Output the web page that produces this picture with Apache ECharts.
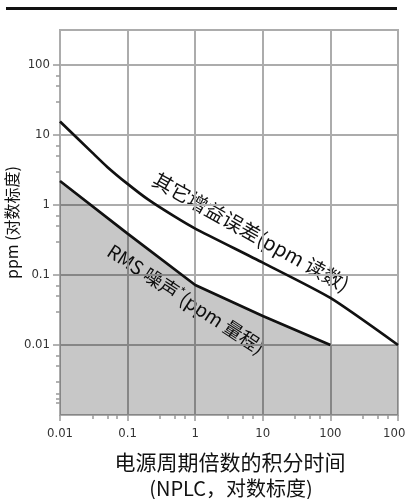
<!DOCTYPE html>
<html><head><meta charset="utf-8">
<script src="https://cdn.jsdelivr.net/npm/echarts@6/dist/echarts.min.js"></script>
<style>html,body{margin:0;padding:0;background:#fff}#c{width:406px;height:499px}</style>
</head><body><div id="c"></div>
<script>
// NPLC (x) and ppm (y) values
const gainX  = [0.01, 0.03, 0.05, 0.1, 0.2, 0.5, 1, 10, 100, 1000];
const gainY  = [15.6, 5.6, 3.5, 2.0, 1.2, 0.68, 0.46, 0.15, 0.047, 0.01];
const noiseX = [0.01, 0.1, 1, 10, 100, 1000];
const noiseY = [2.2, 0.39, 0.072, 0.026, 0.01, 0.01];
const noiseLineEnd = 100; // black line stops here; fill continues
const xLabels = [0.01, 0.1, 1, 10, 100, 1000];
const yLabels = [0.01, 0.1, 1, 10, 100];
const xTickValues = [0.03,0.05,0.07,0.3,0.5,0.7,3,5,7,30,50,70,300,500,700];
const yTickValues = [0.0015,0.0017,0.002,0.003,0.005,0.007,0.03,0.05,0.07,0.3,0.5,0.7,3,5,7,30,50,70];

const gainData = gainX.map((x, i) => [x, gainY[i]]);
const noiseArea = noiseX.map((x, i) => [x, noiseY[i]]);
const noiseLine = noiseArea.filter(d => d[0] <= noiseLineEnd);

function fmtFor(list) {
  return function (v) {
    for (const t of list) { if (Math.abs(v - t) / t < 1e-6) return String(t); }
    return '';
  };
}
const narrow = '"Liberation Sans Narrow","DejaVu Sans Condensed","Liberation Sans",sans-serif';
const cjk = '"Noto Sans CJK SC","Liberation Sans Narrow",sans-serif';
const gridColor = '#acacac';

const chart = echarts.init(document.getElementById('c'));
chart.setOption({
  animation: false,
  backgroundColor: '#fff',
  grid: { left: 60, right: 8, top: 30, bottom: 84, show: true, borderColor: gridColor, borderWidth: 2,
          backgroundColor: 'transparent', containLabel: false, outerBoundsMode: 'none' },
  xAxis: [{
    type: 'log', logBase: 10, min: 0.01, max: 1000, position: 'bottom',
    axisLine: { show: true, lineStyle: { color: gridColor, width: 2 } },
    axisTick: { show: true, inside: false, length: 6, lineStyle: { color: '#999', width: 1.5 } },
    axisLabel: { formatter: fmtFor(xLabels), color: '#333', fontSize: 13, fontFamily: narrow, margin: 12, showMaxLabel: true },
    splitLine: { show: true, lineStyle: { color: gridColor, width: 2 } }
  }, {
    type: 'log', logBase: 10, min: 0.01, max: 1000, position: 'bottom', offset: 0,
    axisLine: { show: false }, axisLabel: { show: false }, splitLine: { show: false },
    axisTick: { show: true, inside: false, length: 4, lineStyle: { color: '#999', width: 1.5 }, customValues: xTickValues }
  }],
  yAxis: [{
    type: 'log', logBase: 10, min: 0.001, max: 316.2, position: 'left',
    axisLine: { show: true, lineStyle: { color: gridColor, width: 2 } },
    axisTick: { show: true, inside: false, length: 7, lineStyle: { color: '#999', width: 1.5 },
                customValues: [0.01, 0.1, 1, 10, 100] },
    axisLabel: { formatter: fmtFor(yLabels), color: '#333', fontSize: 13, fontFamily: narrow, margin: 10 },
    splitLine: { show: true, lineStyle: { color: gridColor, width: 2 } },
    name: 'ppm (对数标度)', nameLocation: 'middle', nameGap: 40, nameRotate: 90, nameMoveOverlap: false,
    nameTextStyle: { fontSize: 16, color: '#111', fontFamily: cjk }
  }, {
    type: 'log', logBase: 10, min: 0.001, max: 316.2, position: 'left', offset: 0,
    axisLine: { show: false }, axisLabel: { show: false }, splitLine: { show: false },
    axisTick: { show: true, inside: false, length: 4, lineStyle: { color: '#999', width: 1.5 }, customValues: yTickValues }
  }],
  series: [
    { type: 'line', data: noiseArea, symbol: 'none', lineStyle: { width: 0 }, areaStyle: { color: 'rgba(0,0,0,0.22)', opacity: 1, origin: 'start' }, silent: true, z: 1 },
    { type: 'line', data: noiseLine, symbol: 'none', lineStyle: { color: '#111', width: 2.7 }, z: 3 },
    { type: 'line', data: gainData, symbol: 'none', smooth: 0.2, lineStyle: { color: '#111', width: 2.7 }, z: 3 }
  ],
  graphic: [
    { type: 'rect', shape: { x: 6, y: 7, width: 391, height: 3 }, style: { fill: '#111' } },
    { type: 'text', x: 251, y: 232, rotation: -0.51,
      style: { text: '其它增益误差(ppm 读数)', fontSize: 20, fontFamily: cjk, fill: '#111', align: 'center', verticalAlign: 'middle' } },
    { type: 'text', x: 186, y: 299, rotation: -0.58,
      style: { text: '{a|RMS 噪声}{s|*}{a|(ppm 量程)}', align: 'center', verticalAlign: 'middle',
        rich: { a: { fontSize: 19, fontFamily: cjk, fill: '#111' }, s: { fontSize: 12, fontFamily: cjk, fill: '#111', verticalAlign: 'top', padding: [0,0,8,0] } } } },
    { type: 'text', x: 230, y: 462,
      style: { text: '电源周期倍数的积分时间', fontSize: 21, fontFamily: cjk, fill: '#111', align: 'center', verticalAlign: 'middle' } },
    { type: 'text', x: 231, y: 488,
      style: { text: '(NPLC，对数标度)', fontSize: 20, fontFamily: cjk, fill: '#111', align: 'center', verticalAlign: 'middle' } }
  ]
});
</script></body></html>
